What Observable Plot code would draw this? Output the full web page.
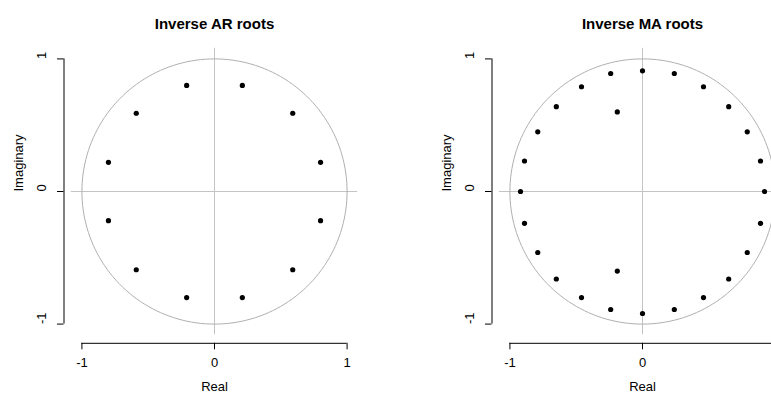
<!DOCTYPE html>
<html>
<head>
<meta charset="utf-8">
<script src="https://cdn.jsdelivr.net/npm/d3@7"></script>
<script src="https://cdn.jsdelivr.net/npm/@observablehq/plot@0.6"></script>
<style>
  html, body { margin: 0; padding: 0; background: #fff; }
  #wrap { width: 771px; height: 399px; overflow: hidden; display: flex; flex-direction: row; }
  #wrap svg { flex: none; }
</style>
</head>
<body>
<div id="wrap"></div>
<script>
// ---- data ----
const arTitle = "Inverse AR roots";
const maTitle = "Inverse MA roots";
const arRe = [0.21, -0.21, 0.59, -0.59, 0.80, -0.80, 0.80, -0.80, 0.59, -0.59, 0.21, -0.21];
const arIm = [0.80, 0.80, 0.59, 0.59, 0.22, 0.22, -0.22, -0.22, -0.59, -0.59, -0.80, -0.80];
const maRe = [0.00, -0.24, 0.24, -0.46, 0.46, -0.65, 0.65, -0.19, -0.79, 0.79, -0.89, 0.89, -0.92, 0.92,
              -0.89, 0.89, -0.79, 0.79, -0.65, 0.65, -0.19, -0.46, 0.46, -0.24, 0.24, 0.00];
const maIm = [0.91, 0.89, 0.89, 0.79, 0.79, 0.64, 0.64, 0.60, 0.45, 0.45, 0.23, 0.23, 0.00, 0.00,
              -0.24, -0.24, -0.46, -0.46, -0.66, -0.66, -0.60, -0.80, -0.80, -0.89, -0.89, -0.92];
const xTicks = [-1, 0, 1];
const yTicks = [-1, 0, 1];
const xLabel = "Real";
const yLabel = "Imaginary";
const domain = [-1.08, 1.08];

// unit circle reference outline
const circle = d3.range(0, 361, 2).map(a => ({x: Math.cos(a * Math.PI / 180), y: Math.sin(a * Math.PI / 180)}));

const font = "Liberation Sans, Arial, sans-serif";

function panel(title, re, im) {
  const pts = re.map((r, i) => ({x: r, y: im[i]}));
  return Plot.plot({
    width: 428,
    height: 399,
    marginLeft: 70.8,
    marginRight: 70.8,
    marginTop: 47.8,
    marginBottom: 64.8,
    style: {fontFamily: font, background: "#fff", color: "#000"},
    x: {domain, axis: null},
    y: {domain, axis: null},
    marks: [
      Plot.ruleY([0], {stroke: "#c4c4c4", strokeWidth: 1}),
      Plot.ruleX([0], {stroke: "#c4c4c4", strokeWidth: 1}),
      Plot.line(circle, {x: "x", y: "y", stroke: "#b0b0b0", strokeWidth: 1}),
      Plot.dot(pts, {x: "x", y: "y", r: 2.6, fill: "#000", stroke: "none"}),
      // x axis (R style, offset below the plot region)
      Plot.ruleY([domain[0]], {x1: xTicks[0], x2: xTicks[xTicks.length - 1], dy: 8.6, stroke: "#000"}),
      Plot.axisX({ticks: xTicks, tickSize: 6.5, dy: 8.6, tickFormat: () => "", stroke: "#000", label: null}),
      Plot.text(xTicks, {x: d => d, text: d => String(d), frameAnchor: "bottom", dy: 32.5, fontSize: 13, fill: "#000"}),
      Plot.text([xLabel], {text: d => d, frameAnchor: "bottom", dy: 56, fontSize: 13, fill: "#000"}),
      // y axis
      Plot.ruleX([domain[0]], {y1: yTicks[0], y2: yTicks[yTicks.length - 1], dx: -7.3, stroke: "#000"}),
      Plot.axisY({ticks: yTicks, tickSize: 6.5, dx: -7.3, tickFormat: () => "", stroke: "#000", label: null}),
      Plot.text(yTicks, {y: d => d, text: d => String(d), frameAnchor: "left", rotate: -90, dx: -29, fontSize: 13, fill: "#000"}),
      Plot.text([yLabel], {text: d => d, frameAnchor: "left", rotate: -90, dx: -52, fontSize: 13, fill: "#000"}),
      // title
      Plot.text([title], {text: d => d, frameAnchor: "top", dy: -29.5, fontSize: 15, fontWeight: "bold", fill: "#000"})
    ]
  });
}

const wrap = document.getElementById("wrap");
wrap.appendChild(panel(arTitle, arRe, arIm));
wrap.appendChild(panel(maTitle, maRe, maIm));
</script>
</body>
</html>
